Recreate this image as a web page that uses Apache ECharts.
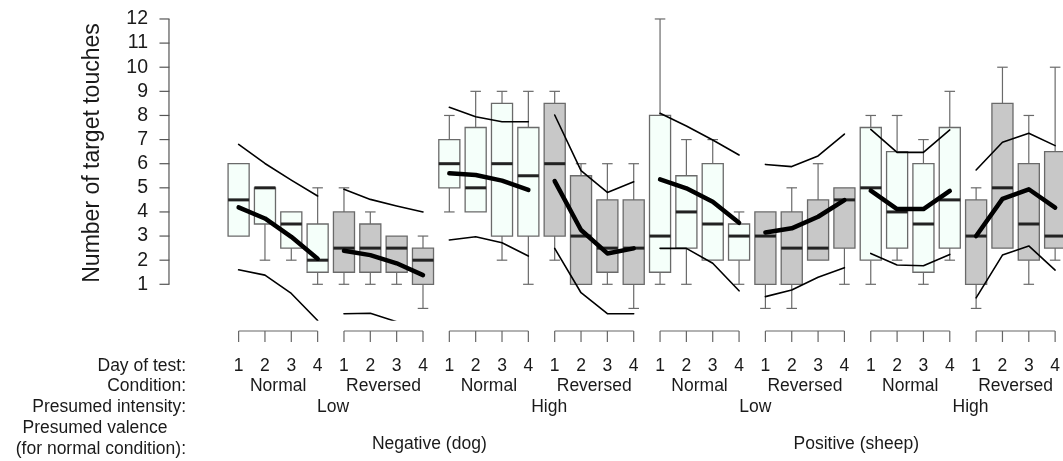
<!DOCTYPE html>
<html><head><meta charset="utf-8">
<script src="https://cdn.jsdelivr.net/npm/echarts@6/dist/echarts.min.js"></script>
<style>html,body{margin:0;padding:0;background:#fff}#c{width:1063px;height:461px}</style>
</head><body><div id="c"></div>
<script>
// ---------- data ----------
const days = ['1', '2', '3', '4'];
const conditions = ['Normal', 'Reversed', 'Normal', 'Reversed', 'Normal', 'Reversed', 'Normal', 'Reversed'];
const intensities = ['Low', 'High', 'Low', 'High'];
const valences = ['Negative (dog)', 'Positive (sheep)'];
const rowTitles = ['Day of test:', 'Condition:', 'Presumed intensity:', 'Presumed valence', '(for normal condition):'];
const yTicks = [1, 2, 3, 4, 5, 6, 7, 8, 9, 10, 11, 12];
const yTitle = 'Number of target touches';

const whiskerLow  = [3, 2, 2, 1,   1, 1, 1, 0,   4, 4, 2, 1,   2, 1, 1, 0,   1, 1, 2, 1,   0, 0, 2, 1,   1, 2, 1, 2,   0, 2.5, 1, 2];
const q1          = [3, 3.5, 2.5, 1.5,   1.5, 1.5, 1.5, 1,   5, 4, 3, 3,   3, 1, 1.5, 1,   1.5, 2.5, 2, 2,   1, 1, 2, 2.5,   2, 2.5, 1.5, 2.5,   1, 2.5, 2, 2.5];
const medians     = [4.5, 5, 3.5, 2,   2.5, 2.5, 2.5, 2,   6, 5, 6, 5.5,   6, 3, 2.5, 2.5,   3, 4, 3.5, 3,   3, 2.5, 2.5, 4.5,   5, 4, 3.5, 4.5,   3, 5, 3.5, 3];
const q3          = [6, 5, 4, 3.5,   4, 3.5, 3, 2.5,   7, 7.5, 8.5, 7.5,   8.5, 5.5, 4.5, 4.5,   8, 5.5, 6, 3.5,   4, 4, 4.5, 5,   7.5, 6.5, 6, 7.5,   4.5, 8.5, 6, 6.5];
const whiskerHigh = [6, 5, 4, 5,   5, 4, 3, 3,   8, 9, 9, 9,   9, 6, 6, 6,   12, 7, 7, 4,   4, 5, 6, 5,   8, 8, 7, 9,   5, 10, 8, 10];

const meanVals = [4.19, 3.73, 2.97, 2.06,   2.39, 2.21, 1.87, 1.38,   5.6, 5.53, 5.3, 4.91,   5.28, 3.25, 2.28, 2.49,
                  5.35, 4.98, 4.42, 3.55,   3.15, 3.32, 3.8, 4.49,   4.88, 4.12, 4.12, 4.87,   3.0, 4.54, 4.94, 4.18];
const upperCI  = [6.8, 6.01, 5.32, 4.66,   4.94, 4.52, 4.25, 4.0,   8.34, 7.95, 7.74, 7.74,   8.02, 5.71, 4.81, 5.25,
                  8.09, 7.56, 6.98, 6.36,   5.97, 5.88, 6.32, 7.23,   7.42, 6.47, 6.47, 7.4,   5.74, 6.89, 7.26, 6.75];
const lowerCI  = [1.6, 1.38, 0.62, -0.5,   -0.22, -0.2, -0.55, -0.9,   2.84, 2.97, 2.72, 2.17,   2.49, 0.65, -0.22, -0.22,
                  2.49, 2.49, 1.87, 0.73,   0.49, 0.76, 1.29, 1.69,   2.28, 1.8, 1.77, 2.24,   0.44, 2.21, 2.59, 1.59];

// ---------- layout (positions in axis units / pixels) ----------
const AXIS_X = -1.644;              // where the y axis line sits (x units)
const XMIN = -2.0228, XMAX = 32.22, YMIN = -0.48, YMAX = 12.48;
const intensityPos = [4.59, 12.79, 20.62, 28.79];
const valencePos = [8.24, 24.45];
const FONT = '"Liberation Sans", Arial, Helvetica, sans-serif';
const TXT = '#1a1a1a';

const nGroups = conditions.length;
const boxData = whiskerLow.map((_, i) => [i + 1, whiskerLow[i], q1[i], medians[i], q3[i], whiskerHigh[i], conditions[Math.floor(i / 4)] === 'Normal' ? 0 : 1]);

const series = [];

// boxes
series.push({
  type: 'custom', name: 'boxes', z: 2, clip: false,
  data: boxData,
  renderItem(params, api) {
    const x = api.value(0);
    const lo = api.value(1), a = api.value(2), m = api.value(3), b = api.value(4), hi = api.value(5);
    const rev = api.value(6) === 1;
    const w = api.size([0.8, 0])[0];
    const c = api.coord([x, 0])[0];
    const yLo = api.coord([x, lo])[1], yA = api.coord([x, a])[1], yM = api.coord([x, m])[1],
          yB = api.coord([x, b])[1], yHi = api.coord([x, hi])[1];
    const wl = { stroke: '#6a6a6a', lineWidth: 1.2 };
    const ch = [];
    if (hi > b) {
      ch.push({ type: 'line', shape: { x1: c, y1: yB, x2: c, y2: yHi }, style: wl });
      ch.push({ type: 'line', shape: { x1: c - w / 4, y1: yHi, x2: c + w / 4, y2: yHi }, style: wl });
    }
    if (lo < a) {
      ch.push({ type: 'line', shape: { x1: c, y1: yA, x2: c, y2: yLo }, style: wl });
      ch.push({ type: 'line', shape: { x1: c - w / 4, y1: yLo, x2: c + w / 4, y2: yLo }, style: wl });
    }
    ch.push({ type: 'rect', shape: { x: c - w / 2, y: yB, width: w, height: yA - yB },
      style: { fill: rev ? '#c8c8c8' : '#f5fffa', stroke: '#6a6a6a', lineWidth: 1.3 } });
    ch.push({ type: 'line', shape: { x1: c - w / 2, y1: yM, x2: c + w / 2, y2: yM },
      style: { stroke: '#222', lineWidth: 3 } });
    return { type: 'group', children: ch };
  }
});

// mean and CI lines per group
for (let g = 0; g < nGroups; g++) {
  const idx = [0, 1, 2, 3].map(k => g * 4 + k);
  const mk = (arr) => idx.map(i => [i + 1, arr[i]]);
  series.push({ type: 'line', name: 'upper' + g, data: mk(upperCI), symbol: 'none', z: 4, clip: true,
    lineStyle: { color: '#000', width: 1.6, cap: 'round', join: 'round' }, silent: true });
  series.push({ type: 'line', name: 'lower' + g, data: mk(lowerCI), symbol: 'none', z: 4, clip: true,
    lineStyle: { color: '#000', width: 1.6, cap: 'round', join: 'round' }, silent: true });
  series.push({ type: 'line', name: 'mean' + g, data: mk(meanVals), symbol: 'none', z: 5, clip: true,
    lineStyle: { color: '#000', width: 4.5, cap: 'round', join: 'round' }, silent: true });
}

// y axis: vertical line from first to last tick, plus outward tick marks (filled bars)
series.push({
  type: 'custom', name: 'yaxis', clip: false, z: 6, silent: true,
  data: yTicks.map(v => [AXIS_X, v]),
  renderItem(params, api) {
    const v = api.value(1);
    const p = api.coord([AXIS_X, v]);
    const ch = [{ type: 'rect', shape: { x: p[0] - 9.5, y: p[1] - 0.6, width: 10, height: 1.2 }, style: { fill: '#555' } }];
    if (params.dataIndex > 0) {
      const q = api.coord([AXIS_X, yTicks[params.dataIndex - 1]]);
      ch.push({ type: 'rect', shape: { x: p[0] - 0.6, y: p[1], width: 1.2, height: q[1] - p[1] }, style: { fill: '#555' } });
    }
    return { type: 'group', children: ch };
  }
});

// brackets under each group
series.push({
  type: 'custom', name: 'brackets', clip: false, z: 3, silent: true,
  data: conditions.map((_, g) => [g * 4 + 1, g * 4 + 4]),
  renderItem(params, api) {
    const s = api.value(0), e = api.value(1);
    const base = api.coord([s, YMIN])[1];
    const yb = base + 11, yt = base + 22;
    const st = { stroke: '#666', lineWidth: 1.2 };
    const ch = [];
    const xs = api.coord([s, YMIN])[0], xe = api.coord([e, YMIN])[0];
    ch.push({ type: 'line', shape: { x1: xs, y1: yb, x2: xe, y2: yb }, style: st });
    for (let v = s; v <= e; v++) {
      const xx = api.coord([v, YMIN])[0];
      ch.push({ type: 'line', shape: { x1: xx, y1: yb, x2: xx, y2: yt }, style: st });
    }
    return { type: 'group', children: ch };
  }
});

// category text rows
const textItems = [];
conditions.forEach((c, g) => textItems.push({ value: [g * 4 + 2.5, 66], name: c }));
intensities.forEach((c, k) => textItems.push({ value: [intensityPos[k], 87], name: c }));
valences.forEach((c, k) => textItems.push({ value: [valencePos[k], 124], name: c }));
series.push({
  type: 'custom', name: 'rowtext', clip: false, z: 3, silent: true,
  data: textItems,
  renderItem(params, api) {
    const p = api.coord([api.value(0), YMIN]);
    return { type: 'text', style: { text: textItems[params.dataIndex].name, x: p[0], y: p[1] + api.value(1),
      align: 'center', verticalAlign: 'middle', font: '17.5px ' + FONT, fill: TXT } };
  }
});

const chart = echarts.init(document.getElementById('c'), null, { renderer: 'canvas' });
chart.setOption({
  animation: false,
  backgroundColor: '#fff',
  grid: { left: 159, right: 0, top: 7.4, bottom: 141, containLabel: false },
  xAxis: {
    type: 'value', min: XMIN, max: XMAX,
    axisLine: { show: false, onZero: false }, axisTick: { show: false }, splitLine: { show: false },
    axisLabel: {
      customValues: whiskerLow.map((_, i) => i + 1),
      formatter: v => days[(Math.round(v) - 1) % 4],
      margin: 37, fontSize: 17.5, fontFamily: FONT, color: TXT
    }
  },
  yAxis: {
    type: 'value', min: YMIN, max: YMAX,
    axisLine: { show: false, onZero: false }, splitLine: { show: false }, axisTick: { show: false },
    axisLabel: { customValues: yTicks, fontSize: 19.5, fontFamily: FONT, color: TXT, margin: 11 }
  },
  graphic: [
    { type: 'text', x: 93, y: 153, rotation: Math.PI / 2,
      style: { text: yTitle, align: 'center', verticalAlign: 'middle', font: '23px ' + FONT, fill: TXT } },
    { type: 'text', x: 186, y: 366, style: { text: rowTitles[0], align: 'right', verticalAlign: 'middle', font: '17.5px ' + FONT, fill: TXT } },
    { type: 'text', x: 186, y: 386, style: { text: rowTitles[1], align: 'right', verticalAlign: 'middle', font: '17.5px ' + FONT, fill: TXT } },
    { type: 'text', x: 186, y: 407, style: { text: rowTitles[2], align: 'right', verticalAlign: 'middle', font: '17.5px ' + FONT, fill: TXT } },
    { type: 'text', x: 95, y: 428, style: { text: rowTitles[3], align: 'center', verticalAlign: 'middle', font: '17.5px ' + FONT, fill: TXT } },
    { type: 'text', x: 186, y: 449, style: { text: rowTitles[4], align: 'right', verticalAlign: 'middle', font: '17.5px ' + FONT, fill: TXT } }
  ],
  series: series
});
</script>
</body></html>
